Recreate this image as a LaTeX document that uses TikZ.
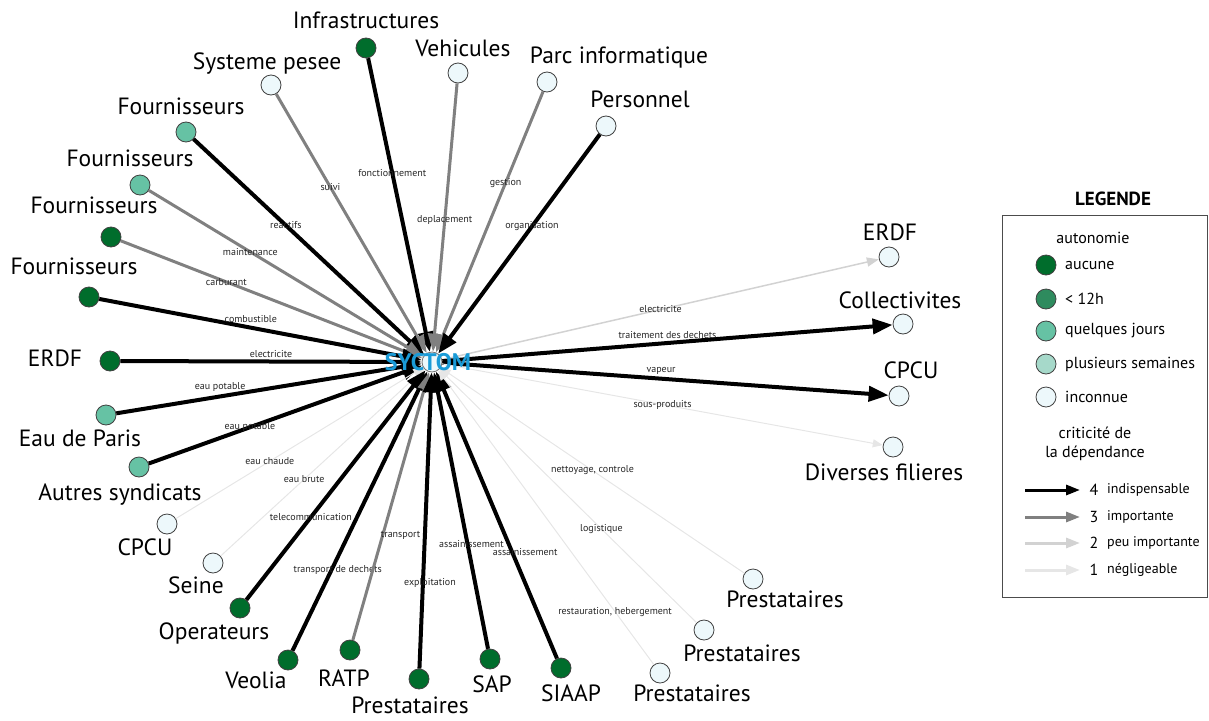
\documentclass[tikz,border=0pt]{standalone}
\usepackage{fontspec}
\setmainfont{PT Sans}
\usetikzlibrary{arrows.meta}
\definecolor{autA}{HTML}{006D2C}
\definecolor{autB}{HTML}{2E8B5E}
\definecolor{autC}{HTML}{66C2A4}
\definecolor{autD}{HTML}{A6D9CA}
\definecolor{autE}{HTML}{EDF8FB}
\definecolor{grisB}{HTML}{808080}
\definecolor{grisC}{HTML}{D2D2D2}
\definecolor{grisD}{HTML}{E6E6E6}
\definecolor{sybleu}{HTML}{1A9BD7}

\begin{document}
\begin{tikzpicture}[x=1pt,y=-1pt,
  every node/.style={inner sep=1pt},
  aut/.style={circle, draw=black!75, line width=0.8pt, minimum size=20pt, inner sep=0pt},
  autA/.style={aut, fill=autA}, autC/.style={aut, fill=autC}, autE/.style={aut, fill=autE},
  lab/.style={font=\fontsize{23.5}{27}\selectfont, text height=0.72em, text depth=0.2em, yshift=-4pt},
  flux/.style={font=\fontsize{10}{12}\selectfont, text=black!85},
  legtxt/.style={font=\fontsize{16}{19}\selectfont},
  crit4/.style={line width=4pt, black, -{Triangle[length=20pt,width=15pt]}},
  crit3/.style={line width=3pt, grisB, -{Triangle[length=18pt,width=13pt]}},
  crit2/.style={line width=1.5pt, grisC, -{Triangle[length=12pt,width=9pt]}},
  crit1/.style={line width=1pt, grisD, -{Triangle[length=10pt,width=8pt]}}]
\useasboundingbox (0,0) rectangle (1209,720);

% centre
\node[aut, fill=autE, draw=black!55] (sy) at (432,362) {};

% acteurs en amont
\node[autA] (infra) at (366,48) {};
\node[lab] (infra-l) at (366,22) {Infrastructures};
\node[autE] (pesee) at (271,85) {};
\node[lab] (pesee-l) at (267,63) {Systeme pesee};
\node[autE] (vehic) at (458,73) {};
\node[lab] (vehic-l) at (463,50) {Vehicules};
\node[autE] (parc) at (547,82) {};
\node[lab] (parc-l) at (619,57) {Parc informatique};
\node[autE] (perso) at (606,126) {};
\node[lab] (perso-l) at (640,101) {Personnel};
\node[autC] (four1) at (186,132) {};
\node[lab] (four1-l) at (181,108) {Fournisseurs};
\node[autC] (four2) at (140,185) {};
\node[lab] (four2-l) at (130,160) {Fournisseurs};
\node[autA] (four3) at (111,237) {};
\node[lab] (four3-l) at (94,207) {Fournisseurs};
\node[autA] (four4) at (89,297) {};
\node[lab] (four4-l) at (74,268) {Fournisseurs};
\node[autA] (erdf1) at (110,361) {};
\node[lab] (erdf1-l) at (55,360) {ERDF};
\node[autC] (eaup) at (106,415) {};
\node[lab] (eaup-l) at (80,440) {Eau de Paris};
\node[autC] (synd) at (139,467) {};
\node[lab] (synd-l) at (120,494) {Autres syndicats};
\node[autE] (cpcu1) at (167,524) {};
\node[lab] (cpcu1-l) at (145,549) {CPCU};
\node[autE] (seine) at (213,563) {};
\node[lab] (seine-l) at (196,587) {Seine};
\node[autA] (oper) at (240,608) {};
\node[lab] (oper-l) at (214,633) {Operateurs};
\node[autA] (veol) at (288,660) {};
\node[lab] (veol-l) at (256,682) {Veolia};
\node[autA] (ratp) at (350,650) {};
\node[lab] (ratp-l) at (344,680) {RATP};
\node[autA] (prest0) at (419,679) {};
\node[lab] (prest0-l) at (410,707) {Prestataires};
\node[autA] (sap) at (490,659) {};
\node[lab] (sap-l) at (492,686) {SAP};
\node[autA] (siaap) at (561,668) {};
\node[lab] (siaap-l) at (571,695) {SIAAP};
\node[autE] (prest3) at (660,673) {};
\node[lab] (prest3-l) at (692,695) {Prestataires};
\node[autE] (prest2) at (704,630) {};
\node[lab] (prest2-l) at (742,655) {Prestataires};
\node[autE] (prest1) at (753,579) {};
\node[lab] (prest1-l) at (785,601) {Prestataires};

% acteurs en aval
\node[autE] (erdf2) at (889,257) {};
\node[lab] (erdf2-l) at (890,234) {ERDF};
\node[autE] (coll) at (903,324) {};
\node[lab] (coll-l) at (900,302) {Collectivites};
\node[autE] (cpcu2) at (899,396) {};
\node[lab] (cpcu2-l) at (911,372) {CPCU};
\node[autE] (div) at (893,447) {};
\node[lab] (div-l) at (884,474) {Diverses filieres};

% dependances entrantes
\draw[crit4] (infra) -- node[flux,pos=.39] {fonctionnement} (sy);
\draw[crit3] (pesee) -- node[flux,pos=.36] {suivi} (sy);
\draw[crit3] (vehic) -- node[flux,pos=.51] {deplacement} (sy);
\draw[crit3] (parc) -- node[flux,pos=.35] {gestion} (sy);
\draw[crit4] (perso) -- node[flux,pos=.42] {organisation} (sy);
\draw[crit4] (four1) -- node[flux,pos=.40] {reactifs} (sy);
\draw[crit3] (four2) -- node[flux,pos=.37] {maintenance} (sy);
\draw[crit3] (four3) -- node[flux,pos=.35] {carburant} (sy);
\draw[crit4] (four4) -- node[flux,pos=.47,above=2pt] {combustible} (sy);
\draw[crit4] (erdf1) -- node[flux,pos=.50,above=1pt] {electricite} (sy);
\draw[crit4] (eaup) -- node[flux,pos=.34,above=2pt] {eau potable} (sy);
\draw[crit4] (synd) -- node[flux,pos=.37] {eau potable} (sy);
\draw[crit1] (cpcu1) -- node[flux,pos=.38] {eau chaude} (sy);
\draw[crit1] (seine) -- node[flux,pos=.41] {eau brute} (sy);
\draw[crit4] (oper) -- node[flux,pos=.36] {telecommunication} (sy);
\draw[crit4] (veol) -- node[flux,pos=.29,xshift=6pt] {transport de dechets} (sy);
\draw[crit3] (ratp) -- node[flux,pos=.39,xshift=18pt] {transport} (sy);
\draw[crit4] (prest0) -- node[flux,pos=.29,xshift=7pt] {exploitation} (sy);
\draw[crit4] (sap) -- node[flux,pos=.38,xshift=4pt] {assainissement} (sy);
\draw[crit4] (siaap) -- node[flux,pos=.37,xshift=13pt] {assainissement} (sy);
\draw[crit1] (prest3) -- node[flux,pos=.18] {restauration, hebergement} (sy);
\draw[crit1] (prest2) -- node[flux,pos=.37] {logistique} (sy);
\draw[crit1] (prest1) -- node[flux,pos=.50] {nettoyage, controle} (sy);

% dependances sortantes
\draw[crit2] (sy) -- node[flux,pos=.50] {electricite} (erdf2);
\draw[crit4] (sy) -- node[flux,pos=.50,above=1pt] {traitement des dechets} (coll);
\draw[crit4] (sy) -- node[flux,pos=.49,above=1pt] {vapeur} (cpcu2);
\draw[crit1] (sy) -- node[flux,pos=.50] {sous-produits} (div);

\node[font=\bfseries\fontsize{24}{28}\selectfont, text=sybleu] (sy-l) at (428,362) {SYCTOM};

% legende
\node[font=\bfseries\fontsize{19}{22}\selectfont] (leg-t) at (1113,199) {LEGENDE};
\draw[black!70, line width=0.8pt] (1002,215) rectangle (1207,597);
\node[legtxt] (leg-a) at (1093,238) {autonomie};
\foreach \c/\t/\y in {autA/aucune/265, autB/< 12h/299, autC/quelques jours/331, autD/plusieurs semaines/364, autE/inconnue/397}{
  \node[aut, fill=\c] (leg-\c) at (1046,\y) {};
  \node[legtxt, anchor=west] (leg-\c-l) at (1064,\y) {\t};
}
\node[legtxt, align=center] (leg-c) at (1095,444) {criticité de\\la dépendance};
\foreach \k/\t/\y in {4/indispensable/490, 3/importante/517, 2/peu importante/543, 1/négligeable/570}{
  \coordinate (leg-\k-a) at (1025,\y);
  \coordinate (leg-\k-b) at (1080,\y);
  \draw[crit\k, line width=3pt, -{Triangle[length=14pt,width=10pt]}] (leg-\k-a) -- (leg-\k-b);
  \node[legtxt] (leg-\k-n) at (1094,\y) {\k};
  \node[font=\fontsize{14}{16}\selectfont, anchor=west] (leg-\k-l) at (1106,\y) {\t};
}
\end{tikzpicture}
\end{document}
